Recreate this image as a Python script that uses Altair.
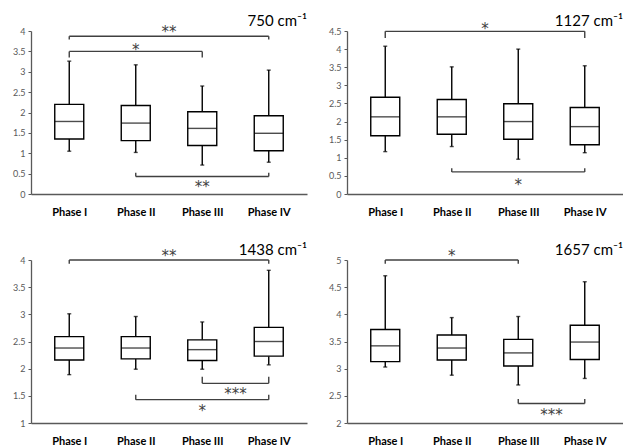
import altair as alt
import pandas as pd

phases = ["Phase I", "Phase II", "Phase III", "Phase IV"]
positions = [1, 2, 3, 4]

# ---- 750 cm-1 ----
w750_low = [1.05, 1.02, 0.71, 0.78]
w750_q1 = [1.35, 1.31, 1.19, 1.06]
w750_med = [1.78, 1.74, 1.61, 1.49]
w750_q3 = [2.20, 2.17, 2.02, 1.92]
w750_high = [3.26, 3.17, 2.65, 3.04]
b750_from = [1, 1, 2]
b750_to = [4, 3, 4]
b750_level = [3.87, 3.50, 0.43]
b750_tip = [3.79, 3.35, 0.52]
b750_label = ["**", "*", "**"]
b750_label_y = [4.05, 3.60, 0.24]

# ---- 1127 cm-1 ----
w1127_low = [1.17, 1.31, 0.96, 1.14]
w1127_q1 = [1.61, 1.65, 1.51, 1.36]
w1127_med = [2.13, 2.13, 2.00, 1.86]
w1127_q3 = [2.67, 2.61, 2.49, 2.39]
w1127_high = [4.08, 3.51, 4.00, 3.54]
b1127_from = [1, 2]
b1127_to = [4, 4]
b1127_level = [4.49, 0.61]
b1127_tip = [4.31, 0.71]
b1127_label = ["*", "*"]
b1127_label_y = [4.64, 0.32]

# ---- 1438 cm-1 ----
w1438_low = [1.89, 1.99, 1.99, 2.07]
w1438_q1 = [2.16, 2.18, 2.15, 2.23]
w1438_med = [2.38, 2.38, 2.35, 2.50]
w1438_q3 = [2.59, 2.59, 2.53, 2.76]
w1438_high = [3.01, 2.96, 2.86, 3.81]
b1438_from = [1, 3, 2]
b1438_to = [4, 4, 4]
b1438_level = [4.00, 1.73, 1.43]
b1438_tip = [3.93, 1.85, 1.52]
b1438_label = ["**", "***", "*"]
b1438_label_y = [4.13, 1.59, 1.27]

# ---- 1657 cm-1 ----
w1657_low = [3.03, 2.88, 2.70, 2.82]
w1657_q1 = [3.13, 3.16, 3.05, 3.17]
w1657_med = [3.42, 3.38, 3.29, 3.49]
w1657_q3 = [3.72, 3.62, 3.54, 3.80]
w1657_high = [4.71, 3.94, 3.96, 4.60]
b1657_from = [1, 3]
b1657_to = [3, 4]
b1657_level = [5.00, 2.36]
b1657_tip = [4.93, 2.44]
b1657_label = ["*", "***"]
b1657_label_y = [5.13, 2.21]

FONT = "Lato"
W, H = 276, 163
BOX = 29
SW = 1.4
AX = "#595959"
BR = "#404040"


def panel(title, low, q1, med, q3, high, bfrom, bto, blevel, btip, blabel, blabel_y, ydom):
    df = pd.DataFrame({"pos": positions, "phase": phases, "low": low, "q1": q1,
                       "med": med, "q3": q3, "high": high})
    br = pd.DataFrame({"a": bfrom, "b": bto, "level": blevel, "tip": btip,
                       "label": blabel, "ly": blabel_y})
    br["mid"] = (br["a"] + br["b"]) / 2
    ends = pd.concat([
        pd.DataFrame({"pos": br["a"], "level": br["level"], "tip": br["tip"]}),
        pd.DataFrame({"pos": br["b"], "level": br["level"], "tip": br["tip"]}),
    ])

    xscale = alt.Scale(domain=[0.5, 4.5], nice=False, zero=False)
    yscale = alt.Scale(domain=ydom, nice=False, zero=False)
    xaxis = alt.Axis(values=positions, title=None, grid=False, ticks=False,
                     labelExpr="['Phase I','Phase II','Phase III','Phase IV'][datum.value-1]",
                     labelFont=FONT, labelFontWeight="bold", labelFontSize=11,
                     labelColor="black", labelPadding=12, domainColor=AX,
                     domainWidth=1.3, minExtent=30, maxExtent=30)
    yaxis = alt.Axis(tickCount=8, title=None, grid=False, format="~g", labelFont=FONT,
                     labelFontSize=9, labelColor=AX, tickColor=AX, tickSize=3,
                     domainColor=AX, domainWidth=1.3, labelPadding=3,
                     labelOverlap=False, minExtent=22, maxExtent=22)

    def X(f):
        return alt.X(f, scale=xscale, axis=xaxis)

    def Y(f):
        return alt.Y(f, scale=yscale, axis=yaxis)

    base = alt.Chart(df)
    whisk_lo = base.mark_rule(color="black", strokeWidth=SW).encode(
        x=X("pos:Q"), y=Y("low:Q"), y2="q1:Q")
    whisk_hi = base.mark_rule(color="black", strokeWidth=SW).encode(
        x=X("pos:Q"), y=Y("q3:Q"), y2="high:Q")
    box = base.mark_bar(size=BOX, fill="white", stroke="black", strokeWidth=SW).encode(
        x=X("pos:Q"), y=Y("q1:Q"), y2="q3:Q")
    median = base.mark_tick(orient="horizontal", size=BOX, thickness=SW, color="black").encode(
        x=X("pos:Q"), y=Y("med:Q"))
    cap_lo = base.mark_tick(orient="horizontal", size=4, thickness=SW, color="black").encode(
        x=X("pos:Q"), y=Y("low:Q"))
    cap_hi = base.mark_tick(orient="horizontal", size=4, thickness=SW, color="black").encode(
        x=X("pos:Q"), y=Y("high:Q"))

    bchart = alt.Chart(br)
    hbar = bchart.mark_rule(color=BR, strokeWidth=SW).encode(
        x=X("a:Q"), x2="b:Q", y=Y("level:Q"))
    vbar = alt.Chart(ends).mark_rule(color=BR, strokeWidth=SW).encode(
        x=X("pos:Q"), y=Y("level:Q"), y2="tip:Q")
    stars = bchart.mark_text(font="DejaVu Sans", fontSize=15, color=BR, baseline="middle",
                             dy=3).encode(
        x=X("mid:Q"), y=Y("ly:Q"), text="label:N")

    head = alt.Chart(pd.DataFrame({"t": [title]})).mark_text(
        font=FONT, fontSize=15, color="black", align="right", baseline="alphabetic",
        dx=5, dy=-5,
    ).encode(x=alt.datum(4.5, scale=xscale), y=alt.datum(ydom[1]), text="t:N")

    return alt.layer(whisk_lo, whisk_hi, box, median, cap_lo, cap_hi, hbar, vbar, stars, head).properties(
        width=W, height=H)


p1 = panel("750 cm⁻¹", w750_low, w750_q1, w750_med, w750_q3, w750_high,
           b750_from, b750_to, b750_level, b750_tip, b750_label, b750_label_y, [0, 4])
p2 = panel("1127 cm⁻¹", w1127_low, w1127_q1, w1127_med, w1127_q3, w1127_high,
           b1127_from, b1127_to, b1127_level, b1127_tip, b1127_label, b1127_label_y, [0, 4.5])
p3 = panel("1438 cm⁻¹", w1438_low, w1438_q1, w1438_med, w1438_q3, w1438_high,
           b1438_from, b1438_to, b1438_level, b1438_tip, b1438_label, b1438_label_y, [1, 4])
p4 = panel("1657 cm⁻¹", w1657_low, w1657_q1, w1657_med, w1657_q3, w1657_high,
           b1657_from, b1657_to, b1657_level, b1657_tip, b1657_label, b1657_label_y, [2, 5])

chart = alt.concat(
    p1, p2, p3, p4, columns=2, spacing={"row": 66, "column": 40}, bounds="flush",
).resolve_scale(x="independent", y="independent").properties(
    padding={"left": 9, "top": 14, "right": 0, "bottom": 0}, background="white"
).configure_view(stroke=None).configure_axisY(tickCount=8)

chart.save("out.html", embed_options={"renderer": "svg", "actions": False})
